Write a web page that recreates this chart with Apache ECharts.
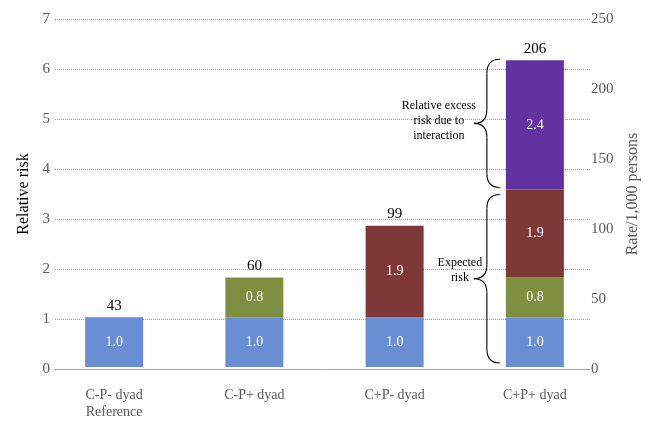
<!DOCTYPE html>
<html>
<head>
<meta charset="utf-8">
<script src="https://cdn.jsdelivr.net/npm/echarts@6/dist/echarts.min.js"></script>
<style>
    html, body { margin: 0; padding: 0; background: #fff; }
    #riskChart { width: 649px; height: 421px; }
</style>
</head>
<body>
<div id="riskChart"></div>
<script>
    // categories and values
    var categories = ['C-P- dyad\nReference', 'C-P+ dyad', 'C+P- dyad', 'C+P+ dyad'];
    var referenceRisk = [1.0, 1.0, 1.0, 1.0];
    var ptsRisk = ['-', 0.8, '-', 0.8];
    var caregiverRisk = ['-', '-', 1.84, 1.77];
    var interactionRisk = ['-', '-', '-', 2.6];
    // printed segment labels
    var referenceText = ['1.0', '1.0', '1.0', '1.0'];
    var ptsText = ['', '0.8', '', '0.8'];
    var caregiverText = ['', '', '1.9', '1.9'];
    var interactionText = ['', '', '', '2.4'];
    // rate per 1,000 persons printed above bars
    var rates = [43, 60, 99, 206];
    var leftTicks = [0, 7, 1];
    var rightTicks = [0, 250, 50];

    var serif = 'Liberation Serif';
    var grey = '#595959';

    function segment(name, values, texts, color){
        return {
            name: name,
            type: 'bar',
            stack: 'rr',
            xAxisIndex: 0,
            yAxisIndex: 0,
            barWidth: 58,
            data: values,
            itemStyle: { color: color },
            label: {
                show: true,
                position: 'inside',
                color: '#fff',
                fontFamily: serif,
                fontSize: 14,
                formatter: function(p){ return texts[p.dataIndex]; }
            }
        };
    }

    function num(v){ return v === '-' ? 0 : v; }

    var chart = echarts.init(document.getElementById('riskChart'));
    var option = {
        animation: false,
        grid: [
            { left: 44, right: 44, top: 19, bottom: 52 },   // bars
            { left: 55, right: 59, top: 19, bottom: 52 }    // axes and gridlines
        ],
        xAxis: [
            {
                type: 'category',
                gridIndex: 0,
                data: categories,
                axisLine: { show: false },
                axisTick: { show: false },
                axisLabel: {
                    margin: 20,
                    color: grey,
                    fontFamily: serif,
                    fontSize: 14,
                    lineHeight: 17
                }
            },
            {
                type: 'value',
                gridIndex: 1,
                min: 0,
                max: 1,
                axisLine: { show: true, lineStyle: { color: '#a6a6a6', width: 1 } },
                axisTick: { show: false },
                axisLabel: { show: false },
                splitLine: { show: false }
            }
        ],
        yAxis: [
            {
                type: 'value',
                gridIndex: 0,
                min: leftTicks[0],
                max: leftTicks[1],
                interval: leftTicks[2],
                show: false
            },
            {
                type: 'value',
                gridIndex: 1,
                min: leftTicks[0],
                max: leftTicks[1],
                interval: leftTicks[2],
                name: 'Relative risk',
                nameLocation: 'middle',
                nameGap: 22,
                nameTextStyle: { color: '#000', fontFamily: serif, fontSize: 16 },
                axisLine: { show: false },
                axisTick: { show: false },
                axisLabel: { margin: 5, color: grey, fontFamily: serif, fontSize: 15 },
                splitLine: { show: true, lineStyle: { color: '#a6a6a6', type: 'dotted', width: 1 } }
            },
            {
                type: 'value',
                gridIndex: 1,
                position: 'right',
                min: rightTicks[0],
                max: rightTicks[1],
                interval: rightTicks[2],
                name: 'Rate/1,000 persons',
                nameLocation: 'middle',
                nameGap: 32,
                nameRotate: 90,
                nameTextStyle: { color: grey, fontFamily: serif, fontSize: 16 },
                axisLine: { show: false },
                axisTick: { show: false },
                axisLabel: { margin: 1, color: grey, fontFamily: serif, fontSize: 15 },
                splitLine: { show: false }
            }
        ],
        series: [
            segment('Reference', referenceRisk, referenceText, '#6a8ed3'),
            segment('C-P+', ptsRisk, ptsText, '#7e8f42'),
            segment('C+P-', caregiverRisk, caregiverText, '#7e3838'),
            segment('Interaction', interactionRisk, interactionText, '#6232a0'),
            {
                name: 'rate',
                type: 'bar',
                stack: 'rr',
                barWidth: 58,
                data: [0, 0, 0, 0],
                label: {
                    show: true,
                    position: 'top',
                    distance: 4,
                    color: '#000',
                    fontFamily: serif,
                    fontSize: 15,
                    formatter: function(p){ return rates[p.dataIndex]; }
                }
            }
        ]
    };
    chart.setOption(option);

    // braces next to the last bar
    var last = categories.length - 1;
    var expectedTop = num(referenceRisk[last]) + num(ptsRisk[last]) + num(caregiverRisk[last]);
    var total = expectedTop + num(interactionRisk[last]);
    var pBase = chart.convertToPixel({ gridIndex: 0 }, [last, 0]);
    var pExp = chart.convertToPixel({ gridIndex: 0 }, [last, expectedTop]);
    var pTot = chart.convertToPixel({ gridIndex: 0 }, [last, total]);
    var barLeft = pBase[0] - 29;
    var xEnd = barLeft - 6, xMid = barLeft - 19, xTip = barLeft - 32;
    var braceStyle = { fill: 'none', stroke: '#000', lineWidth: 1.1 };

    // a curly brace pointing left, made of quadratic curves and straight lines
    function brace(yTop, yBot){
        var r = 14, ym = (yTop + yBot) / 2;
        function curve(x1, y1, cx, cy, x2, y2){
            return { type: 'bezierCurve', shape: { x1: x1, y1: y1, cpx1: cx, cpy1: cy, x2: x2, y2: y2 }, style: braceStyle };
        }
        function line(x1, y1, x2, y2){
            return { type: 'line', shape: { x1: x1, y1: y1, x2: x2, y2: y2 }, style: braceStyle };
        }
        return [
            curve(xEnd, yTop, xMid, yTop, xMid, yTop + r),
            line(xMid, yTop + r, xMid, ym - r),
            curve(xMid, ym - r, xMid, ym, xTip, ym),
            curve(xTip, ym, xMid, ym, xMid, ym + r),
            line(xMid, ym + r, xMid, yBot - r),
            curve(xMid, yBot - r, xMid, yBot, xEnd, yBot)
        ];
    }

    var upTop = pTot[1] - 1, upBot = pExp[1] - 2;
    var loTop = pExp[1] + 5, loBot = pBase[1] - 4;

    var graphics = brace(upTop, upBot).concat(brace(loTop, loBot));
    graphics.push({
        type: 'text',
        x: xTip - 35,
        y: (upTop + upBot) / 2 - 3,
        style: {
            text: 'Relative excess\nrisk due to\ninteraction',
            fill: '#000',
            font: '12px "Liberation Serif"',
            lineHeight: 15,
            align: 'center',
            verticalAlign: 'middle'
        }
    });
    graphics.push({
        type: 'text',
        x: xTip - 14,
        y: (loTop + loBot) / 2 - 8,
        style: {
            text: 'Expected\nrisk',
            fill: '#000',
            font: '12px "Liberation Serif"',
            lineHeight: 15,
            align: 'center',
            verticalAlign: 'middle'
        }
    });

    chart.setOption({ graphic: graphics });
</script>
</body>
</html>
